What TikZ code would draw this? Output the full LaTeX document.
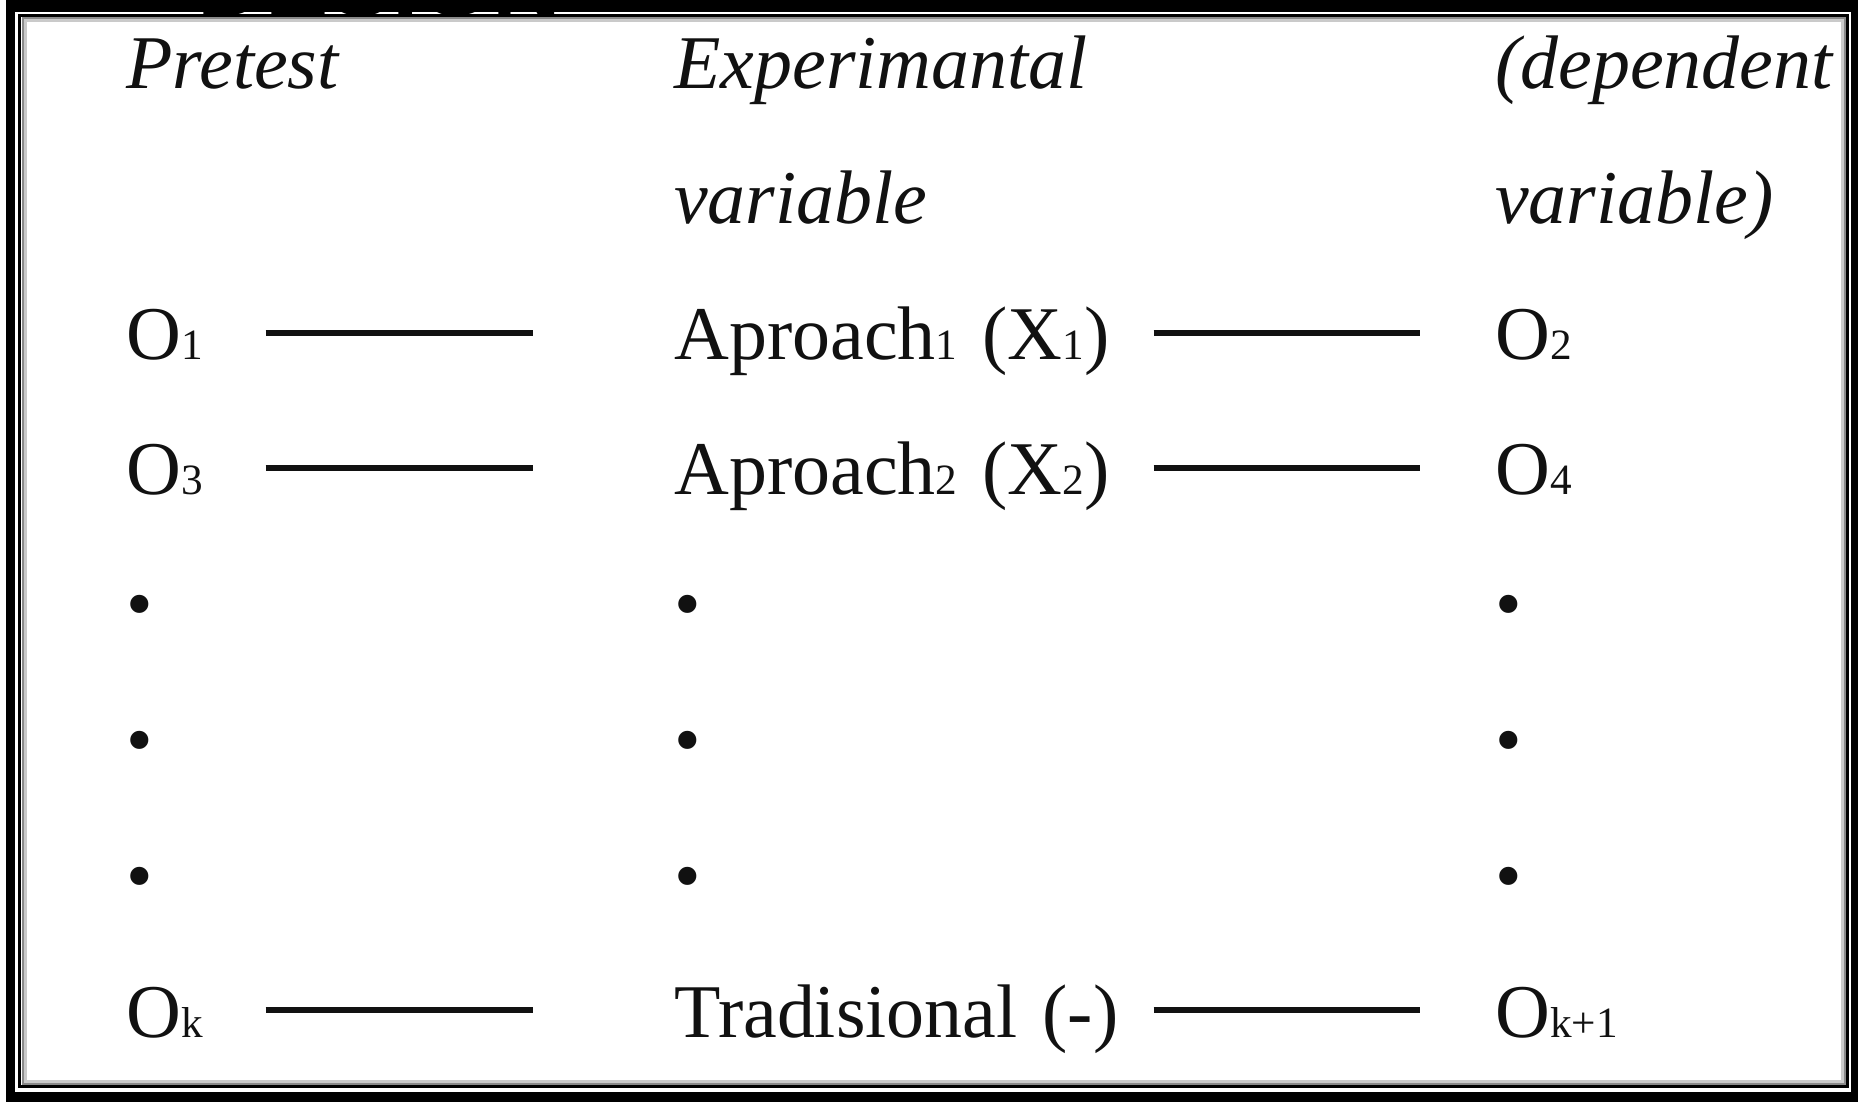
\documentclass[tikz,border=0pt]{standalone}
\usepackage{fontspec}
\setmainfont{Liberation Serif}
\newfontfamily\titlefont{Liberation Sans}
\usetikzlibrary{positioning}
\definecolor{cink}{HTML}{111111}
\definecolor{cshade}{HTML}{8A8A8A}
\newcommand{\lowidx}[1]{{\fontsize{12.3}{12.3}\selectfont #1}}
\tikzset{
  every picture/.style={line width=1.3pt},
  cell/.style={anchor=base west, inner sep=0pt, text height=15.4pt, text depth=0pt, text=cink, font=\fontsize{21.6}{26}\selectfont},
  head/.style={cell, font=\fontsize{21.6}{26}\selectfont\itshape},
  obs/.style={cell, text width=1cm, align=left},
  treat/.style={cell, text width=4.6cm, align=left},
  link/.style={draw=cink, line width=1.6pt},
  linkleft/.style={link, shorten <=0.37cm, shorten >=1.39cm},
  linkright/.style={link, shorten <=0.17cm, shorten >=0.73cm},
  titlebit/.style={anchor=base west, inner sep=0pt, font=\titlefont\bfseries\fontsize{27}{27}\selectfont},
}

\begin{document}
\begin{tikzpicture}
  \useasboundingbox (0,0) rectangle (18.58,11.02);
  % frame
  \fill[black] (0.06,0) rectangle (18.58,11.02);
  \fill[white] (0.15,0.10) rectangle (18.51,10.90);
  \draw[black, line width=0.03cm] (0.195,0.155) rectangle (18.475,10.865);
  \draw[cshade, line width=0.02cm] (0.225,0.185) rectangle (18.445,10.835);
  \draw[cshade!45, line width=0.03cm] (0.25,0.21) rectangle (18.42,10.81);
  \begin{scope}
    \clip (0,0) rectangle (18.58,11.02);
    \node[titlebit] (design) at (1.95,10.86) {DESIGN};
  \end{scope}
  % headings
  \node[head] (pre) at (1.24,10.13) {Pretest};
  \node[head] (exp) at (6.72,10.13) {Experimantal};
  \node[head] (dep) at (14.93,10.13) {(dependent};
  \node[head] (expv) at (6.72,8.78) {variable};
  \node[head] (depv) at (14.93,8.78) {variable)};
  % groups
  \node[obs] (o1) at (1.24,7.42) {O\lowidx{1}};
  \node[treat] (x1) at (6.72,7.42) {Aproach\lowidx{1} (X\lowidx{1})};
  \node[cell] (o2) at (14.93,7.42) {O\lowidx{2}};
  \node[obs] (o3) at (1.24,6.07) {O\lowidx{3}};
  \node[treat] (x2) at (6.72,6.07) {Aproach\lowidx{2} (X\lowidx{2})};
  \node[cell] (o4) at (14.93,6.07) {O\lowidx{4}};
  \foreach \y [count=\i] in {4.72,3.36,2.01} {
    \node[cell] (dl\i) at (1.24,\y) {\textbullet};
    \node[cell] (dm\i) at (6.72,\y) {\textbullet};
    \node[cell] (dr\i) at (14.93,\y) {\textbullet};
  }
  \node[obs] (ok) at (1.24,0.65) {O\lowidx{k}};
  \node[treat] (trad) at (6.72,0.65) {Tradisional (-)};
  \node[cell] (okk) at (14.93,0.65) {O\lowidx{k+1}};
  % connectors
  \draw[linkleft] (o1) -- (x1);
  \draw[linkright] (x1) -- (o2);
  \draw[linkleft] (o3) -- (x2);
  \draw[linkright] (x2) -- (o4);
  \draw[linkleft] (ok) -- (trad);
  \draw[linkright] (trad) -- (okk);
\end{tikzpicture}
\end{document}
